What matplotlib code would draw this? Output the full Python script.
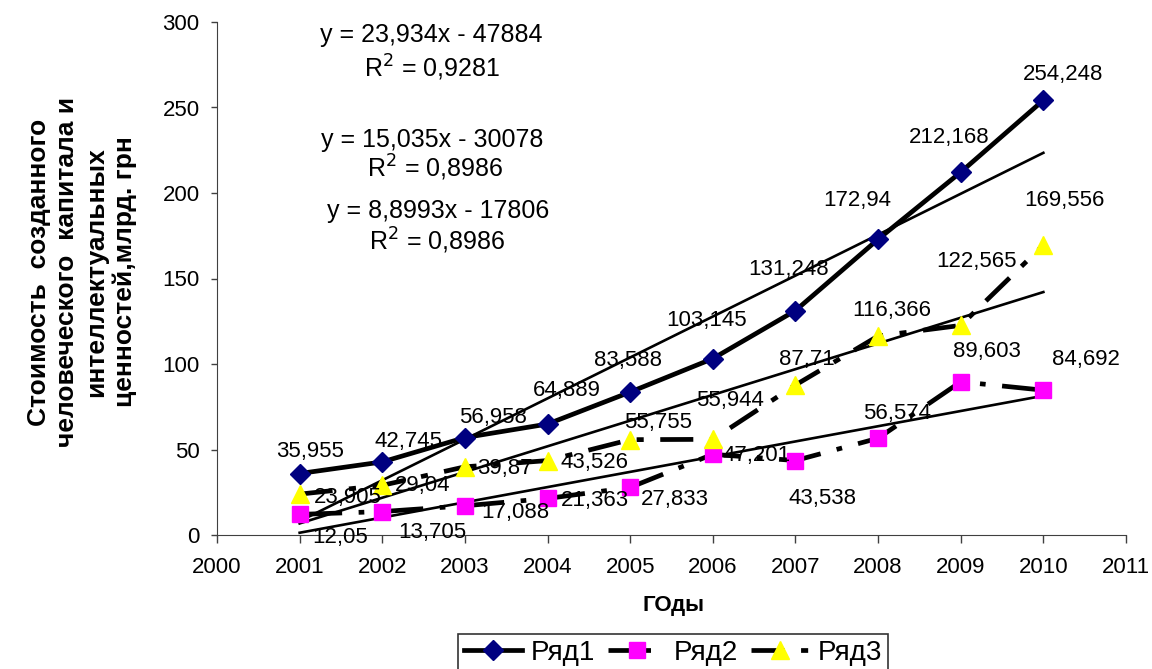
import matplotlib
matplotlib.use("Agg")
import matplotlib.pyplot as plt
import numpy as np

plt.rcParams['font.family'] = ['Liberation Sans', 'DejaVu Sans']

# data
years = [2001, 2002, 2003, 2004, 2005, 2006, 2007, 2008, 2009, 2010]
row1 = [35.955, 42.745, 56.958, 64.889, 83.588, 103.145, 131.248, 172.94, 212.168, 254.248]
row2 = [12.05, 13.705, 17.088, 21.363, 27.833, 47.201, 43.538, 56.574, 89.603, 84.692]
row3 = [23.905, 29.04, 39.87, 43.526, 55.755, 55.944, 87.71, 116.366, 122.565, 169.556]
labels1 = ['35,955', '42,745', '56,958', '64,889', '83,588', '103,145', '131,248', '172,94', '212,168', '254,248']
labels2 = ['12,05', '13,705', '17,088', '21,363', '27,833', '47,201', '43,538', '56,574', '89,603', '84,692']
labels3 = ['23,905', '29,04', '39,87', '43,526', '55,755', '55,944', '87,71', '116,366', '122,565', '169,556']
eq_lines = ['y = 23,934x - 47884', 'R$^2$ = 0,9281',
            'y = 15,035x - 30078', 'R$^2$ = 0,8986',
            'y = 8,8993x - 17806', 'R$^2$ = 0,8986']

# label offsets in pixels (dx, dy), picked by eye
off1 = [(10, 25), (26, 23), (28, 23), (19, 36), (-2, 34), (-6, 41), (-7, 44), (-21, 41), (-12, 37), (20, 28)]
off2 = [(40, -21), (50, -18), (50, -4), (47, 0), (45, -10), (44, 1), (27, -35), (19, 27), (26, 33), (43, 33)]
off3 = [(48, -1), (40, 2), (40, 1), (47, 1), (28, 20), (17, 41), (11, 28), (14, 28), (16, 66), (21, 47)]

fig = plt.figure(figsize=(11.52, 6.69), dpi=100)
ax = fig.add_axes([217/1152, 1 - 535/669, 909/1152, 513/669])

x = np.array(years)
# linear trend lines
for ser in (row1, row3, row2):
    k, b = np.polyfit(x, ser, 1)
    ax.plot(x, k*x + b, color='black', lw=1.9, zorder=2)

ax.plot(years, row1, color='black', lw=3.4, marker='D', ms=10.5, mfc='#000080', mec='#000080', label='Ряд1', zorder=3)
ax.plot(years, row2, color='black', lw=3.4, ls=(0, (9, 3.5, 1.2, 3.5)), marker='s', ms=12, mfc='#FF00FF', mec='#FF00FF', label='Ряд2', zorder=3)
ax.plot(years, row3, color='black', lw=3.4, ls=(0, (7, 3.5, 1.5, 3.5)), marker='^', ms=13, mfc='#FFFF00', mec='#FFFF00', label='Ряд3', zorder=3)

for ser, labs, offs in ((row1, labels1, off1), (row2, labels2, off2), (row3, labels3, off3)):
    for xi, yi, t, (dx, dy) in zip(years, ser, labs, offs):
        ax.annotate(t, (xi, yi), xytext=(dx, dy), textcoords='offset pixels',
                    ha='center', va='center_baseline', fontsize=16, zorder=4)

eq_pos = [(431, 42), (432, 77), (432, 147), (435, 177), (438, 218), (437, 250)]
for t, (px, py) in zip(eq_lines, eq_pos):
    fig.text(px/1152, 1 - py/669, t, ha='center', va='baseline', fontsize=18)

ax.set_xlim(2000, 2011)
ax.set_ylim(0, 300)
ax.set_xticks(range(2000, 2012))
ax.set_yticks(range(0, 301, 50))
ax.tick_params(axis='x', direction='out', length=6, width=1, colors='#404040', labelcolor='black', labelsize=16, pad=10)
ax.tick_params(axis='y', direction='out', length=4.5, width=1, colors='#404040', labelcolor='black', labelsize=16, pad=8)
ax.spines['top'].set_visible(False)
ax.spines['right'].set_visible(False)
ax.spines['left'].set_color('#404040')
ax.spines['bottom'].set_color('#404040')

fig.text(673/1152, 1 - 605/669, 'ГОды', ha='center', va='center', fontsize=16, fontweight='bold')
fig.text(82/1152, 1 - 272/669,
         'Стоимость  созданного\nчеловеческого  капитала и\nинтеллектуальных\nценностей,млрд. грн',
         rotation=90, ha='center', va='center', fontsize=19, fontweight='bold', linespacing=1.25)

leg = fig.legend(loc='upper center', bbox_to_anchor=(673/1152, 1 - 634/669), ncol=3, fontsize=20,
                 frameon=True, fancybox=False, edgecolor='black', handlelength=2.1,
                 columnspacing=0.45, handletextpad=0.3, borderpad=0.2, borderaxespad=0)
leg.get_frame().set_linewidth(1.2)

fig.savefig('out.png', dpi=100)
